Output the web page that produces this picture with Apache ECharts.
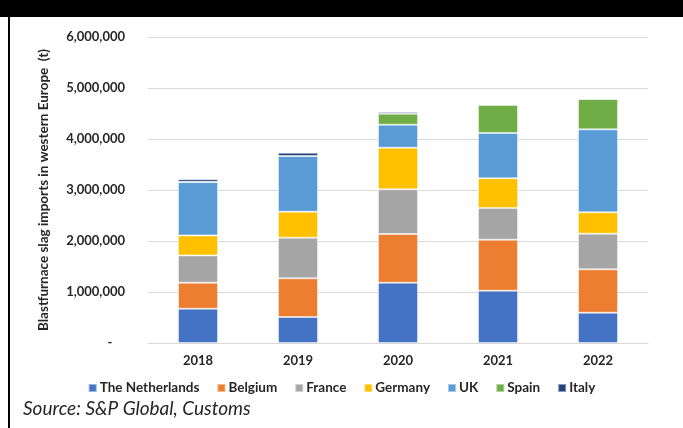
<!DOCTYPE html>
<html>
<head>
<meta charset="utf-8">
<script src="https://cdn.jsdelivr.net/npm/echarts@6/dist/echarts.min.js"></script>
<style>
  html, body { margin: 0; padding: 0; background: #fff; }
  #chart { width: 683px; height: 428px; }
</style>
</head>
<body>
<div id="chart"></div>
<script>
// Blastfurnace slag imports into western Europe by origin, tonnes
const years = ['2018', '2019', '2020', '2021', '2022'];
const netherlands = [672000, 510000, 1182000, 1026000, 594000];
const belgium     = [510000, 759000, 955000, 1000000, 851000];
const france      = [536000, 796000, 876000, 622000, 698000];
const germany     = [392000, 510000, 816000, 582000, 420000];
const uk          = [1045000, 1092000, 451000, 888000, 1627000];
const spain       = [5000, 0, 216000, 549000, 594000];
const italy       = [53000, 65000, 33000, 20000, 6000];

const seriesNames  = ['The Netherlands', 'Belgium', 'France', 'Germany', 'UK', 'Spain', 'Italy'];
const seriesValues = [netherlands, belgium, france, germany, uk, spain, italy];
const seriesColors = ['#4472C4', '#ED7D31', '#A5A5A5', '#FFC000', '#5B9BD5', '#70AD47', '#264478'];

const yTicks = { min: 0, max: 6000000, interval: 1000000 };
const sourceNote = 'Source: S&P Global, Customs';

const FONT = 'Lato';
const chart = echarts.init(document.getElementById('chart'), null, { renderer: 'canvas' });

const fmt = v => v === 0 ? '-    ' : v.toLocaleString('en-US');

chart.setOption({
  animation: false,
  textStyle: { fontFamily: FONT },
  grid: { left: 148, right: 35, top: 37, bottom: 85, containLabel: false },
  legend: {
    bottom: 28,
    left: 'center',
    itemWidth: 8,
    itemHeight: 8,
    itemGap: 17,
    icon: 'rect',
    textStyle: { fontFamily: FONT, fontSize: 13.5, fontWeight: 'bold', color: '#262626', padding: [0, 0, 0, -2] },
    data: seriesNames
  },
  xAxis: {
    type: 'category',
    data: years,
    axisTick: { show: false },
    axisLine: { lineStyle: { color: '#d9d9d9', width: 1 } },
    axisLabel: { fontFamily: FONT, fontSize: 13, fontWeight: 'bold', color: '#262626', margin: 11 }
  },
  yAxis: {
    type: 'value',
    min: yTicks.min,
    max: yTicks.max,
    interval: yTicks.interval,
    name: 'Blastfurnace slag imports in western Europe  (t)',
    nameLocation: 'middle',
    nameGap: 97,
    nameTextStyle: { fontFamily: FONT, fontSize: 13.5, fontWeight: 'bold', color: '#262626' },
    axisLine: { show: false },
    axisTick: { show: false },
    splitLine: { lineStyle: { color: '#d9d9d9', width: 1 } },
    axisLabel: { fontFamily: FONT, fontSize: 13, fontWeight: 'bold', color: '#262626', margin: 23, formatter: fmt }
  },
  series: seriesNames.map((name, i) => ({
    name,
    type: 'bar',
    stack: 'total',
    barWidth: 40,
    data: seriesValues[i],
    itemStyle: { color: seriesColors[i], borderColor: 'rgba(255,255,255,0.45)', borderWidth: 1 }
  })),
  graphic: [
    { type: 'rect', left: 0, top: 0, shape: { width: 683, height: 17 }, style: { fill: '#000' }, silent: true },
    { type: 'rect', left: 8, top: 0, shape: { width: 2, height: 428 }, style: { fill: '#000' }, silent: true },
    {
      type: 'text', left: 23, top: 399,
      style: { text: sourceNote, font: 'italic 19px ' + FONT, fill: '#262626' }
    }
  ]
});
</script>
</body>
</html>
